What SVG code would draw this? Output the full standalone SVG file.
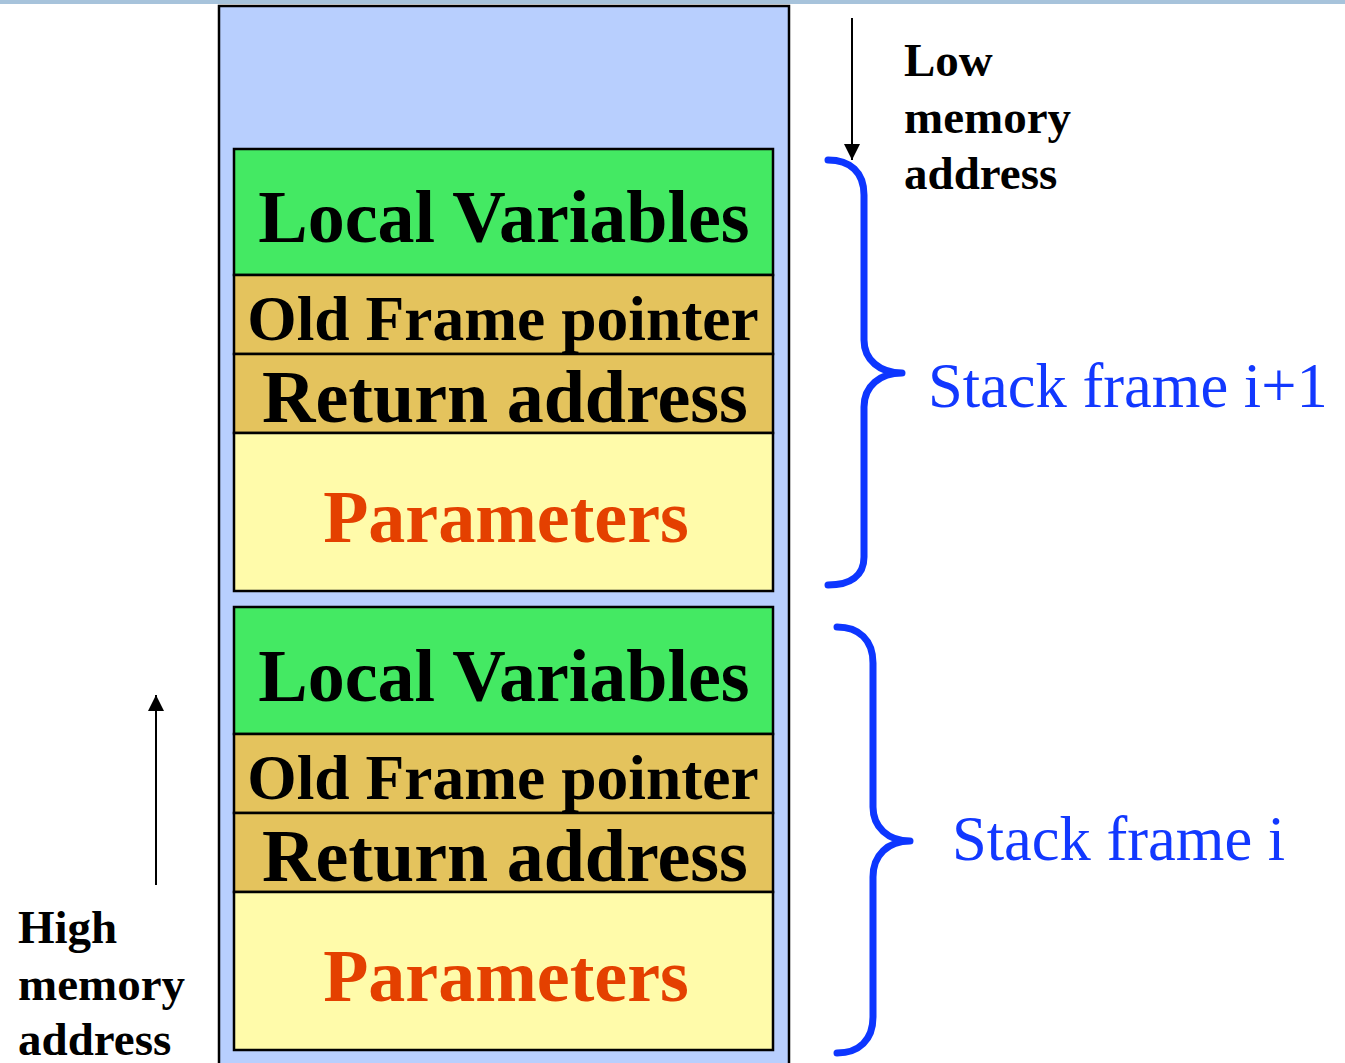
<svg xmlns="http://www.w3.org/2000/svg" width="1345" height="1063" viewBox="0 0 1345 1063">
  <style>
    .cell { stroke: #000; stroke-width: 2.5; }
    .lv { fill: #44e963; }
    .ptr { fill: #e4c35d; }
    .par { fill: #fffbaa; }
    .bold { font-family: "Liberation Serif", "Times New Roman", serif; font-weight: bold; fill: #000; }
    .big { font-size: 74px; text-anchor: middle; }
    .mid { font-size: 63.5px; text-anchor: middle; }
    .orange { fill: #e44000; }
    .side { font-size: 47px; }
    .blue { font-family: "Liberation Serif", "Times New Roman", serif; font-size: 62.5px; fill: #1238ff; }
    .brace { fill: none; stroke: #0d36ff; stroke-width: 7; stroke-linecap: round; stroke-linejoin: round; }
    .arrow { stroke: #000; stroke-width: 2; fill: none; }
  </style>
  <defs>
    <marker id="head" viewBox="0 0 10 10" refX="10" refY="5" markerWidth="17" markerHeight="16" markerUnits="userSpaceOnUse" orient="auto">
      <path d="M0,0 L10,5 L0,10 Z" fill="#000"/>
    </marker>
  </defs>

  <rect x="0" y="0" width="1345" height="4" fill="#a7c3db"/>

  <!-- the stack column -->
  <g id="stack">
    <rect x="219" y="6" width="570" height="1070" fill="#b8cffe" stroke="#000" stroke-width="2.5"/>
  </g>

  <!-- frame i+1 -->
  <g id="frame-upper">
    <rect class="cell lv" x="234" y="149" width="539" height="126"/>
    <rect class="cell ptr" x="234" y="275" width="539" height="79"/>
    <rect class="cell ptr" x="234" y="354" width="539" height="79"/>
    <rect class="cell par" x="234" y="433" width="539" height="158"/>
    <text class="bold big" x="504" y="242">Local Variables</text>
    <text class="bold mid" x="503" y="340">Old Frame pointer</text>
    <text class="bold big" x="505" y="422">Return address</text>
    <text class="bold big orange" x="506" y="542">Parameters</text>
  </g>

  <!-- frame i -->
  <g id="frame-lower">
    <rect class="cell lv" x="234" y="607" width="539" height="127"/>
    <rect class="cell ptr" x="234" y="734" width="539" height="79"/>
    <rect class="cell ptr" x="234" y="813" width="539" height="79"/>
    <rect class="cell par" x="234" y="892" width="539" height="158"/>
    <text class="bold big" x="504" y="701">Local Variables</text>
    <text class="bold mid" x="503" y="799">Old Frame pointer</text>
    <text class="bold big" x="505" y="881">Return address</text>
    <text class="bold big orange" x="506" y="1001">Parameters</text>
  </g>

  <g id="low-label">
    <text class="bold side" x="904" y="76">Low</text>
    <text class="bold side" x="904" y="133">memory</text>
    <text class="bold side" x="904" y="189">address</text>
  </g>

  <g id="high-label">
    <text class="bold side" x="18" y="943">High</text>
    <text class="bold side" x="18" y="1000">memory</text>
    <text class="bold side" x="18" y="1055">address</text>
  </g>

  <g id="label-upper">
    <text class="blue" x="928" y="407">Stack frame i+1</text>
  </g>
  <g id="label-lower">
    <text class="blue" x="952" y="860">Stack frame i</text>
  </g>

  <g id="connectors">
    <line class="arrow" x1="852" y1="18" x2="852" y2="160" marker-end="url(#head)"/>
    <line class="arrow" x1="156" y1="885" x2="156" y2="695" marker-end="url(#head)"/>
    <path class="brace" d="M828,160 C850,160 864,172 864,195 L864,340 C864,360 880,373 902,373 C880,373 864,386 864,407 L864,557 C864,576 850,585 828,585"/>
    <path class="brace" d="M837,627 C859,627 873,640 873,663 L873,807 C873,827 888,841 910,841 C888,841 873,855 873,877 L873,1017 C873,1040 859,1053 837,1053"/>
  </g>
</svg>
